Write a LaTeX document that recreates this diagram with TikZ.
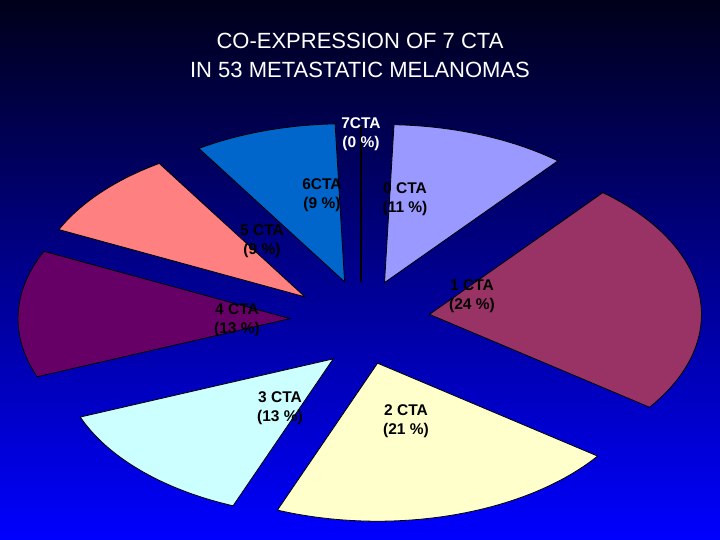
\documentclass[tikz,border=0pt]{standalone}
\usepackage{fontspec}
\setmainfont{Liberation Sans}
\begin{document}
\begin{tikzpicture}[x=1pt,y=-1pt,
  lab/.style={font=\bfseries\fontsize{15.5}{19}\selectfont,align=center,text=black},
  sl/.style={draw=black,line width=0.8pt}]
\shade[top color=black!90!blue,bottom color=blue,middle color=blue!55!black] (0,0) rectangle (720,540);
\useasboundingbox (0,0) rectangle (720,540);
\node[text=white,font=\fontsize{22}{29}\selectfont,align=center] (title) at (360,55) {CO-EXPRESSION OF 7 CTA\\IN 53 METASTATIC MELANOMAS};
\def\cx{365}\def\cy{320}\def\rx{272}\def\ry{158}
% #1 color, #2 start angle, #3 end angle, #4 explode x, #5 explode y
\newcommand\pieslice[5]{%
  \pgfmathsetmacro\mid{(#2+#3)/2}%
  \pgfmathsetmacro\ox{\cx+#4*cos(\mid)}%
  \pgfmathsetmacro\oy{\cy-#5*sin(\mid)}%
  \filldraw[sl,fill=#1] (\ox,\oy) -- plot[domain=#2:#3,samples=50] ({\ox+\rx*cos(\x)},{\oy-\ry*sin(\x)}) -- cycle;}
\definecolor{c0}{RGB}{153,153,255}
\definecolor{c1}{RGB}{153,51,102}
\definecolor{c2}{RGB}{255,255,204}
\definecolor{c3}{RGB}{204,255,255}
\definecolor{c4}{RGB}{102,0,102}
\definecolor{c5}{RGB}{255,128,128}
\definecolor{c6}{RGB}{0,102,204}
\pieslice{c0}{50.4}{88}{55}{40}
\pieslice{c1}{-36}{50.4}{65}{45}
\pieslice{c2}{-111.6}{-36}{45}{45}
\pieslice{c3}{-158.4}{-111.6}{45}{55}
\pieslice{c4}{-205.2}{-158.4}{75}{45}
\pieslice{c5}{-237.6}{-205.2}{80}{35}
\pieslice{c6}{-268}{-237.6}{69}{40}
\draw[line width=2.5pt,black] (361,282) -- (361,126);
\node[lab,text=white] (l7) at (361,134) {7CTA\\(0 \%)};
\node[lab] (l6) at (322,195) {6CTA\\(9 \%)};
\node[lab] (l0) at (405,199) {0 CTA\\(11 \%)};
\node[lab] (l5) at (262,241) {5 CTA\\(9 \%)};
\node[lab] (l1) at (472,296) {1 CTA\\(24 \%)};
\node[lab] (l4) at (237,320) {4 CTA\\(13 \%)};
\node[lab] (l3) at (280,408) {3 CTA\\(13 \%)};
\node[lab] (l2) at (406,421) {2 CTA\\(21 \%)};
\end{tikzpicture}
\end{document}
